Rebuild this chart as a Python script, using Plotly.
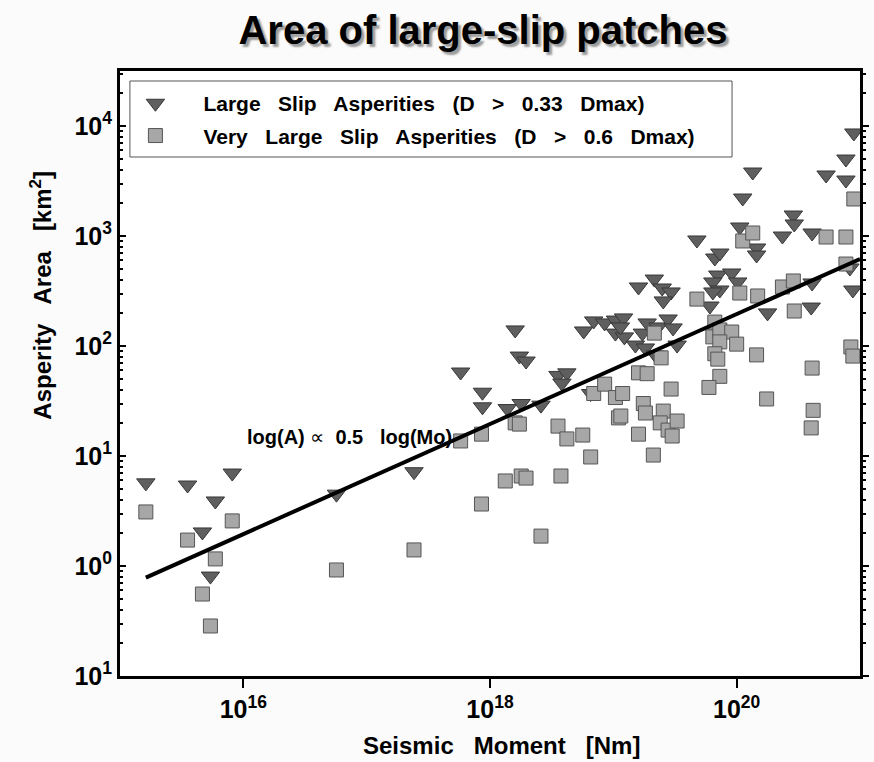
import math
import plotly.graph_objects as go

# Large-slip asperities (D > 0.33 Dmax): seismic moment [Nm] and area [km^2]
ls_moment = [
    1.62e15, 3.53e15, 8.13e15, 5.93e15, 4.66e15, 5.41e15, 5.69e16, 2.42e17,
    5.78e17, 8.69e17, 8.69e17, 1.60e18, 1.73e18, 1.96e18, 1.38e18, 1.79e18,
    2.59e18, 3.56e18, 4.20e18, 3.83e18, 6.55e18, 5.75e18, 6.93e18, 8.50e18,
    1.04e19, 1.21e19, 1.04e19, 1.23e19, 1.14e19, 1.60e19, 2.15e19, 2.49e19,
    2.94e19, 2.54e19, 1.51e19, 1.72e19, 1.82e19, 1.88e19, 2.31e19, 2.78e19,
    3.05e19, 3.29e19, 2.19e19, 4.76e19, 6.65e19, 7.30e19, 7.03e19, 9.12e19,
    1.02e20, 6.41e19, 7.30e19, 6.41e19, 6.07e19, 1.45e20, 1.45e20, 1.78e20,
    2.35e20, 4.09e20, 4.09e20, 4.02e20, 8.75e20, 8.28e20, 8.91e20, 7.69e20,
    5.31e20, 7.69e20, 1.35e20, 1.12e20, 1.06e20, 2.88e20, 2.93e20,
]
ls_area = [
    5.7, 5.45, 7.0, 3.9, 2.04, 0.81, 4.5, 7.2,
    58, 38, 28, 140, 81, 73, 27, 30,
    29, 54, 57, 46, 37, 137, 169, 162,
    172, 180, 131, 121, 149, 344, 406, 337,
    310, 257, 102, 131, 96, 162, 149, 176,
    146, 102, 83, 920, 631, 700, 442, 461,
    382, 382, 323, 310, 231, 778, 672, 200,
    1000, 1065, 374, 226, 323, 512, 8640, 5010,
    3586, 3228, 3818, 2215, 1207, 1552, 1286,
]

# Very large-slip asperities (D > 0.6 Dmax)
vls_moment = [
    1.62e15, 3.53e15, 8.13e15, 5.93e15, 4.66e15, 5.41e15, 5.69e16, 2.42e17,
    5.78e17, 8.53e17, 1.33e18, 8.53e17, 1.60e18, 1.73e18, 3.56e18, 4.20e18,
    5.65e18, 6.55e18, 6.93e18, 8.50e18, 1.04e19, 1.19e19, 1.60e19, 1.88e19,
    2.15e19, 2.44e19, 1.75e19, 1.82e19, 2.54e19, 2.94e19, 1.10e19, 1.15e19,
    1.60e19, 2.40e19, 2.78e19, 3.29e19, 3.00e19, 2.11e19, 1.79e18, 1.96e18,
    3.76e18, 2.59e18, 4.76e19, 6.65e19, 6.41e19, 7.30e19, 9.12e19, 7.30e19,
    1.00e20, 6.65e19, 7.03e19, 1.45e20, 7.30e19, 5.96e19, 1.75e20, 1.06e20,
    1.48e20, 2.35e20, 2.88e20, 2.93e20, 1.12e20, 1.35e20, 5.31e20, 7.69e20,
    7.69e20, 8.43e20, 8.75e20, 4.09e20, 4.17e20, 4.02e20, 8.91e20,
]
vls_area = [
    3.1, 1.72, 2.57, 1.16, 0.556, 0.285, 0.92, 1.40,
    13.7, 15.8, 5.93, 3.66, 20, 19.5, 18.7, 14.3,
    15.5, 9.8, 37, 45, 34, 37, 57, 56,
    131, 78, 30, 24.6, 25.6, 40.6, 22.2, 23.1,
    15.8, 20, 17.2, 20.8, 15.2, 10.2, 6.58, 6.3,
    6.58, 1.87, 267, 165, 121, 140, 134, 109,
    104, 85, 76, 83, 53, 42, 33, 303,
    285, 344, 390, 208, 901, 1065, 979, 979,
    556, 98, 81, 63, 26, 18, 2170,
]

# Scaling relation across the moment range: log(A) = 0.5 log(Mo) + c
fit_slope = 0.5
fit_intercept = -7.71
fit_moment = [1.62e15, 1.0e21]
fit_area = [10 ** (fit_slope * math.log10(m) + fit_intercept) for m in fit_moment]

y_tickvals = [1e-1, 1e0, 1e1, 1e2, 1e3, 1e4]
y_ticktext = ["<b>10<sup>1</sup></b>", "<b>10<sup>0</sup></b>", "<b>10<sup>1</sup></b>",
              "<b>10<sup>2</sup></b>", "<b>10<sup>3</sup></b>", "<b>10<sup>4</sup></b>"]
x_tickvals = [1e16, 1e18, 1e20]
x_ticktext = ["<b>10<sup>16</sup></b>", "<b>10<sup>18</sup></b>", "<b>10<sup>20</sup></b>"]

NB = "\u00a0"
GAP = NB + NB + " "
FONT = "Liberation Sans, Arial, sans-serif"

fig = go.Figure()

fig.add_trace(go.Scatter(
    x=ls_moment, y=ls_area, mode="markers", legendgroup="a",
    name="<b>" + GAP.join(["Large", "Slip", "Asperities", "(D", ">", "0.33", "Dmax)"]) + "</b>",
    marker=dict(symbol="triangle-down", size=16, color="#5f5f5f",
                line=dict(color="#383838", width=1)),
))
fig.add_trace(go.Scatter(
    x=vls_moment, y=vls_area, mode="markers", legendgroup="b",
    name="<b>" + GAP.join(["Very", "Large", "Slip", "Asperities", "(D", ">", "0.6", "Dmax)"]) + "</b>",
    marker=dict(symbol="square", size=14, color="#a7a7a7",
                line=dict(color="#555555", width=1)),
))
fig.add_trace(go.Scatter(
    x=fit_moment, y=fit_area, mode="lines", showlegend=False,
    line=dict(color="black", width=4),
))
# carrier for the right-hand axis
fig.add_trace(go.Scatter(x=[1e18], y=[1], yaxis="y2", mode="markers",
                         marker=dict(opacity=0), showlegend=False, hoverinfo="skip"))

tick_font = dict(family=FONT, size=25, color="black")
label_font = dict(family=FONT, size=24, color="black")

fig.update_layout(
    width=874, height=762,
    margin=dict(l=120, r=8, t=71, b=86),
    paper_bgcolor="#fbfbfb",
    plot_bgcolor="white",
    title=dict(
        text="<b>Area of large-slip patches</b>",
        x=483 / 874, xanchor="center", y=1 - 30 / 762, yanchor="middle",
        font=dict(family=FONT, size=40, color="black", shadow="3px 3px 2px #9a9a9a"),
    ),
    xaxis=dict(
        type="log", range=[15, 21],
        tickvals=x_tickvals, ticktext=x_ticktext,
        ticks="outside", ticklen=9, tickwidth=2, tickcolor="black",
        tickfont=tick_font,
        showline=True, linewidth=3, linecolor="black", mirror=True,
        showgrid=False, zeroline=False,
    ),
    yaxis=dict(
        type="log", range=[-1, 4.5],
        tickvals=y_tickvals, ticktext=y_ticktext,
        ticks="inside", ticklen=6, tickwidth=2, tickcolor="black",
        minor=dict(ticks="inside", ticklen=3, tickwidth=2, tickcolor="black", dtick="D1"),
        tickfont=tick_font,
        showline=True, linewidth=3, linecolor="black",
        showgrid=False, zeroline=False,
    ),
    yaxis2=dict(
        type="log", range=[-1, 4.5], overlaying="y", side="right",
        tickvals=y_tickvals, showticklabels=False,
        ticks="outside", ticklen=6, tickwidth=2, tickcolor="black",
        minor=dict(ticks="outside", ticklen=3, tickwidth=2, tickcolor="black", dtick="D1"),
        showline=True, linewidth=3, linecolor="black",
        showgrid=False, zeroline=False,
    ),
    legend=dict(
        x=-0.017, y=0.980, xanchor="left", yanchor="top",
        bgcolor="rgba(0,0,0,0)", borderwidth=0,
        itemwidth=86, tracegroupgap=2, traceorder="grouped",
        font=dict(family=FONT, size=21, color="black"),
    ),
    shapes=[dict(
        type="rect", xref="paper", yref="paper",
        x0=10 / 746, x1=617 / 746, y0=(676 - 157) / 605, y1=(676 - 81) / 605,
        line=dict(color="#555555", width=1), fillcolor="white", layer="below",
    )],
    annotations=[
        dict(
            xref="paper", yref="paper", x=(351 - 120) / 746, y=(676 - 437) / 605,
            xanchor="center", yanchor="middle",
            text=f"<b>log(A)</b> ∝ {NB}<b>0.5{NB} {NB}log(Mo)</b>", showarrow=False,
            font=dict(family=FONT, size=20, color="black"),
        ),
        dict(
            xref="paper", yref="paper", x=(505 - 120) / 746, y=-(745 - 676) / 605,
            xanchor="center", yanchor="middle", showarrow=False,
            text="<b>" + GAP.join(["Seismic", "Moment", "[Nm]"]) + "</b>",
            font=label_font,
        ),
        dict(
            xref="paper", yref="paper", x=-(120 - 40) / 746, y=(676 - 295) / 605,
            xanchor="center", yanchor="middle", showarrow=False, textangle=-90,
            text="<b>" + GAP.join(["Asperity", "Area", "[km<sup>2</sup>]"]) + "</b>",
            font=label_font,
        ),
    ],
)

fig.write_html("out.html")
